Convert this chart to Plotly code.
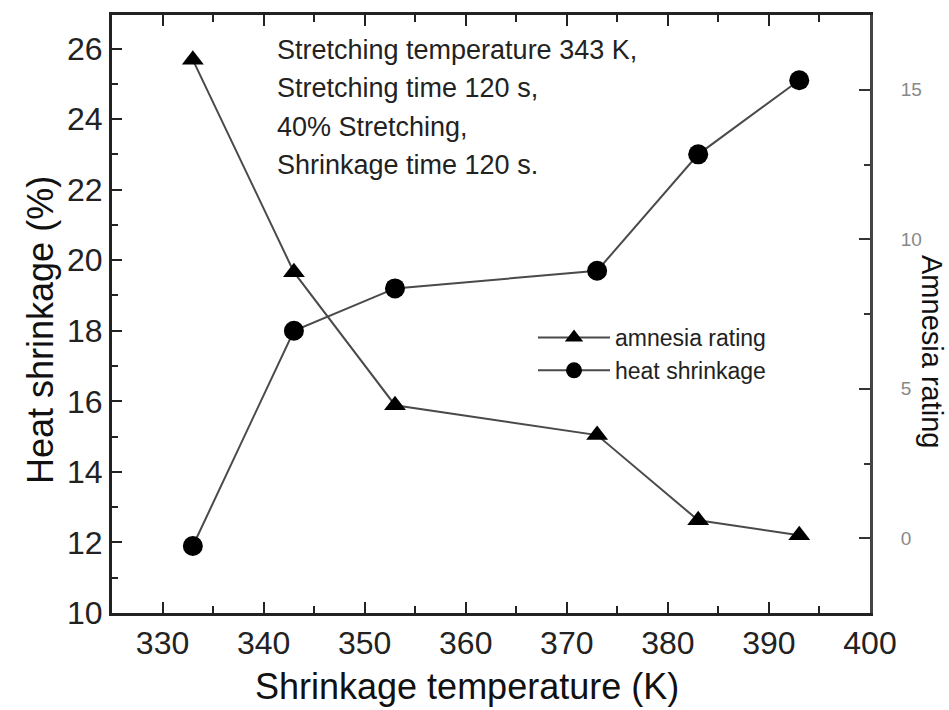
import plotly.graph_objects as go

temperature = [333, 343, 353, 373, 383, 393]
heat_shrinkage = [11.9, 18.0, 19.2, 19.7, 23.0, 25.1]
amnesia_rating = [16.0, 8.9, 4.45, 3.45, 0.6, 0.1]

x_ticks = [330, 340, 350, 360, 370, 380, 390, 400]
left_ticks = [10, 12, 14, 16, 18, 20, 22, 24, 26]
right_ticks = [0, 5, 10, 15]

note_lines = [
    "Stretching temperature 343 K,",
    "Stretching time 120 s,",
    "40% Stretching,",
    "Shrinkage time 120 s.",
]

FONT = "Liberation Sans, Arial, sans-serif"
LINE = "#4a4a4a"

L, R, T, B = 112, 870, 15, 613
W, H = 949, 710


def px(xp):
    return (xp - L) / (R - L)


def py(yp):
    return (B - yp) / (B - T)


fig = go.Figure()
fig.add_trace(go.Scatter(
    x=temperature, y=amnesia_rating, name="amnesia rating", yaxis="y2",
    mode="lines+markers",
    line=dict(color=LINE, width=2),
    marker=dict(symbol="triangle-up", size=19, color="black"),
))
fig.add_trace(go.Scatter(
    x=temperature, y=heat_shrinkage, name="heat shrinkage",
    mode="lines+markers",
    line=dict(color=LINE, width=2),
    marker=dict(symbol="circle", size=20, color="black"),
))

annotations = []
for i, t in enumerate(note_lines):
    annotations.append(dict(
        x=px(275), y=py(50 + i * 38.4), xref="paper", yref="paper", text=t,
        showarrow=False, xanchor="left", yanchor="middle",
        font=dict(family=FONT, size=27, color="#222"),
    ))

annotations.append(dict(
    x=px(467), y=py(686), xref="paper", yref="paper",
    text="Shrinkage temperature (K)", showarrow=False,
    font=dict(family=FONT, size=36, color="#111"), xanchor="center", yanchor="middle",
))
annotations.append(dict(
    x=px(40), y=py(330), xref="paper", yref="paper",
    text="Heat shrinkage (%)", showarrow=False, textangle=-90,
    font=dict(family=FONT, size=36, color="#111"), xanchor="center", yanchor="middle",
))
annotations.append(dict(
    x=px(932), y=py(351), xref="paper", yref="paper",
    text="Amnesia rating", showarrow=False, textangle=90,
    font=dict(family=FONT, size=29, color="#111"), xanchor="center", yanchor="middle",
))

fig.update_layout(
    width=W, height=H,
    margin=dict(l=L, r=W - R, t=T, b=H - B),
    paper_bgcolor="white", plot_bgcolor="white",
    showlegend=True,
    legend=dict(
        x=px(533), y=py(316), xanchor="left", yanchor="top",
        bgcolor="rgba(0,0,0,0)", itemwidth=72, tracegroupgap=0,
        font=dict(family=FONT, size=23, color="#222"),
    ),
    annotations=annotations,
    xaxis=dict(
        range=[325, 400], tickvals=x_ticks, ticks="inside", ticklen=11, tickwidth=2,
        tickcolor="#222",
        minor=dict(dtick=5, tick0=325, ticks="inside", ticklen=7, tickwidth=2, tickcolor="#222"),
        showline=True, linecolor="#222", linewidth=3, mirror="ticks",
        showgrid=False, zeroline=False,
        tickfont=dict(family=FONT, size=32, color="#222"),
    ),
    yaxis=dict(
        range=[10, 26.95], tickvals=left_ticks, ticks="inside", ticklen=10, tickwidth=2,
        tickcolor="#222",
        minor=dict(dtick=1, tick0=10, ticks="inside", ticklen=6, tickwidth=2, tickcolor="#222"),
        showline=True, linecolor="#222", linewidth=3,
        showgrid=False, zeroline=False,
        tickfont=dict(family=FONT, size=32, color="#222"),
    ),
    yaxis2=dict(
        range=[-2.5, 17.5], tickvals=right_ticks, overlaying="y", side="right",
        ticks="inside", ticklen=11, tickwidth=2, tickcolor="#333",
        minor=dict(dtick=2.5, tick0=0, ticks="inside", ticklen=6, tickwidth=2, tickcolor="#333"),
        showline=True, linecolor="#444", linewidth=3,
        showgrid=False, zeroline=False,
        ticklabelposition="outside", ticklabelstandoff=24,
        tickfont=dict(family=FONT, size=19, color="#888"),
    ),
)

fig.write_html("out.html")
